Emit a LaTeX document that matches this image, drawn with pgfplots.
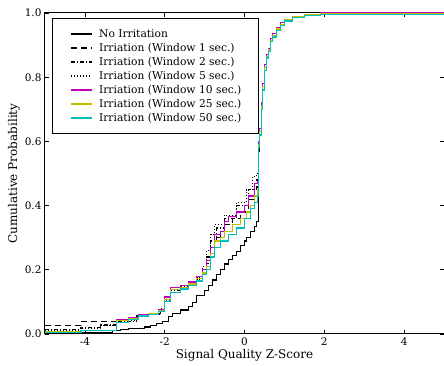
\documentclass[border=0pt]{standalone}
\usepackage{fontspec}
\setmainfont{DejaVu Serif}
\usepackage{pgfplots}
\pgfplotsset{compat=1.18}
\definecolor{mplmagenta}{rgb}{0.75,0,0.75}
\definecolor{mplyellow}{rgb}{0.75,0.75,0}
\definecolor{mplcyan}{rgb}{0,0.75,0.75}
\begin{document}
\begin{tikzpicture}[x=1pt,y=1pt]
\begin{axis}[
  at={(0,0)}, anchor=south west,
  width=399pt, height=321pt, scale only axis,
  xmin=-5, xmax=5, ymin=0, ymax=1,
  xtick={-4,-2,0,2,4},
  ytick={0,0.2,0.4,0.6,0.8,1.0},
  yticklabel style={/pgf/number format/fixed,/pgf/number format/fixed zerofill,/pgf/number format/precision=1},
  /pgf/number format/assume math mode=true,
  tick align=inside,
  major tick length=4pt,
  tick style={black, line width=0.8pt},
  axis line style={line width=1pt},
  ticklabel style={font=\fontsize{10.5}{12}\selectfont},
  xlabel={Signal Quality Z-Score},
  ylabel={Cumulative Probability},
  label style={font=\fontsize{12}{14}\selectfont},
  xlabel style={yshift=3pt},
  ylabel style={yshift=-2pt},
  legend cell align=left,
  legend style={at={(rel axis cs:0.0183,0.985)}, anchor=north west,
    draw=black, line width=0.9pt, font=\fontsize{10.7}{12.5}\selectfont,
    inner xsep=15pt, inner ysep=10pt, row sep=2.4pt,
    nodes={inner xsep=2pt, inner ysep=1pt}},
  legend image code/.code={\path (0pt,0pt) (28pt,0pt); \draw[#1] (3pt,0pt) -- (24pt,0pt);},
  legend image post style={line width=1.4pt},
  every axis plot/.append style={line width=1.2pt, const plot},
]
% No Irritation
\addplot[black] coordinates {(-5,0.002)(-4.1,0.005)(-3.3,0.01)(-3.1,0.013)(-2.9,0.016)(-2.7,0.018)(-2.5,0.022)(-2.35,0.027)(-2.2,0.033)(-2.05,0.04)(-1.9,0.055)(-1.8,0.065)(-1.6,0.075)(-1.4,0.085)(-1.3,0.097)(-1.2,0.12)(-1.0,0.135)(-0.9,0.152)(-0.8,0.168)(-0.7,0.185)(-0.6,0.20)(-0.5,0.218)(-0.4,0.232)(-0.3,0.245)(-0.2,0.258)(-0.1,0.275)(0.0,0.29)(0.05,0.30)(0.15,0.32)(0.25,0.335)(0.3,0.35)(0.36,0.57)(0.38,0.62)(0.42,0.70)(0.46,0.76)(0.5,0.82)(0.55,0.86)(0.6,0.88)(0.65,0.91)(0.7,0.93)(0.8,0.95)(0.9,0.97)(1.0,0.98)(1.2,0.99)(1.5,0.995)(1.9,1.0)(5,1.0)};
\addlegendentry{No Irritation}
% Window 1
\addplot[black, dash pattern=on 6pt off 4pt] coordinates {(-5,0.026)(-4.1,0.038)(-3.2,0.044)(-2.9,0.05)(-2.7,0.055)(-2.4,0.06)(-2.1,0.07)(-2.0,0.10)(-1.85,0.13)(-1.6,0.14)(-1.4,0.15)(-1.2,0.165)(-1.05,0.19)(-0.95,0.22)(-0.85,0.27)(-0.75,0.30)(-0.6,0.32)(-0.5,0.34)(-0.3,0.36)(-0.1,0.38)(0.1,0.42)(0.25,0.45)(0.33,0.46)(0.35,0.59)(0.38,0.63)(0.42,0.71)(0.46,0.77)(0.5,0.83)(0.55,0.865)(0.6,0.885)(0.65,0.915)(0.7,0.93)(0.8,0.955)(0.9,0.97)(1.0,0.98)(1.2,0.99)(1.5,0.995)(1.9,1.0)(5,1)};
\addlegendentry{Irriation (Window 1 sec.)}
% Window 2
\addplot[black, dash pattern=on 4pt off 2pt on 1pt off 2pt] coordinates {(-5,0.014)(-4.1,0.02)(-3.6,0.028)(-3.2,0.04)(-2.7,0.056)(-2.4,0.062)(-2.1,0.075)(-2.0,0.105)(-1.85,0.135)(-1.6,0.145)(-1.4,0.155)(-1.2,0.17)(-1.05,0.20)(-0.95,0.24)(-0.85,0.29)(-0.7,0.33)(-0.5,0.36)(-0.2,0.40)(0.1,0.45)(0.3,0.48)(0.35,0.60)(0.38,0.64)(0.42,0.72)(0.46,0.78)(0.5,0.84)(0.55,0.87)(0.6,0.89)(0.65,0.92)(0.7,0.935)(0.8,0.955)(0.9,0.97)(1.0,0.98)(1.2,0.99)(1.5,0.995)(1.9,1.0)(5,1)};
\addlegendentry{Irriation (Window 2 sec.)}
% Window 5
\addplot[black, dash pattern=on 1pt off 2pt] coordinates {(-5,0.01)(-4.1,0.016)(-3.6,0.026)(-3.2,0.042)(-2.7,0.057)(-2.4,0.063)(-2.1,0.078)(-2.0,0.108)(-1.85,0.138)(-1.6,0.148)(-1.4,0.158)(-1.2,0.175)(-1.05,0.21)(-0.95,0.26)(-0.85,0.31)(-0.75,0.34)(-0.5,0.37)(-0.2,0.41)(0.05,0.45)(0.2,0.49)(0.3,0.50)(0.35,0.60)(0.38,0.64)(0.42,0.72)(0.46,0.78)(0.5,0.84)(0.55,0.87)(0.6,0.89)(0.65,0.92)(0.7,0.935)(0.8,0.955)(0.9,0.97)(1.0,0.98)(1.2,0.99)(1.5,0.995)(1.9,1.0)(5,1)};
\addlegendentry{Irriation (Window 5 sec.)}
% Window 10
\addplot[color=mplmagenta] coordinates {(-5,0.007)(-4.1,0.012)(-3.2,0.045)(-2.9,0.05)(-2.65,0.06)(-2.4,0.065)(-2.15,0.075)(-2.0,0.115)(-1.85,0.145)(-1.6,0.152)(-1.4,0.162)(-1.2,0.18)(-1.05,0.20)(-0.95,0.23)(-0.85,0.27)(-0.75,0.31)(-0.6,0.32)(-0.5,0.35)(-0.4,0.365)(-0.2,0.38)(0.0,0.40)(0.1,0.43)(0.25,0.47)(0.33,0.475)(0.35,0.60)(0.38,0.64)(0.42,0.72)(0.46,0.78)(0.5,0.84)(0.55,0.87)(0.6,0.89)(0.65,0.92)(0.7,0.935)(0.8,0.955)(0.9,0.97)(1.0,0.98)(1.2,0.99)(1.5,0.995)(1.9,1.0)(5,1)};
\addlegendentry{Irriation (Window 10 sec.)}
% Window 25
\addplot[color=mplyellow] coordinates {(-5,0.006)(-4.1,0.01)(-3.2,0.042)(-2.9,0.048)(-2.65,0.058)(-2.4,0.062)(-2.15,0.072)(-2.0,0.108)(-1.85,0.138)(-1.6,0.146)(-1.4,0.156)(-1.2,0.172)(-1.05,0.19)(-0.95,0.21)(-0.85,0.25)(-0.75,0.29)(-0.6,0.30)(-0.5,0.32)(-0.3,0.34)(-0.1,0.36)(0.05,0.38)(0.15,0.40)(0.25,0.43)(0.33,0.45)(0.35,0.59)(0.38,0.63)(0.42,0.71)(0.46,0.77)(0.5,0.83)(0.55,0.865)(0.6,0.885)(0.65,0.915)(0.7,0.93)(0.8,0.95)(0.9,0.965)(1.0,0.978)(1.2,0.988)(1.5,0.994)(1.9,0.998)(5,0.998)};
\addlegendentry{Irriation (Window 25 sec.)}
% Window 50
\addplot[color=mplcyan] coordinates {(-5,0.005)(-4.1,0.012)(-3.2,0.036)(-2.9,0.045)(-2.65,0.056)(-2.4,0.06)(-2.15,0.07)(-2.0,0.10)(-1.85,0.13)(-1.6,0.14)(-1.4,0.15)(-1.2,0.165)(-1.05,0.185)(-0.95,0.20)(-0.85,0.24)(-0.75,0.27)(-0.6,0.29)(-0.4,0.31)(-0.2,0.33)(0.0,0.36)(0.15,0.39)(0.25,0.41)(0.33,0.43)(0.35,0.58)(0.38,0.62)(0.42,0.70)(0.46,0.76)(0.5,0.82)(0.55,0.86)(0.6,0.88)(0.65,0.91)(0.7,0.925)(0.8,0.945)(0.9,0.96)(1.0,0.975)(1.2,0.985)(1.5,0.992)(1.9,0.996)(5,0.996)};
\addlegendentry{Irriation (Window 50 sec.)}
\end{axis}
\pgfresetboundingbox
\path[use as bounding box] (-45pt,-32pt) rectangle (399pt,334pt);
\end{tikzpicture}
\end{document}
